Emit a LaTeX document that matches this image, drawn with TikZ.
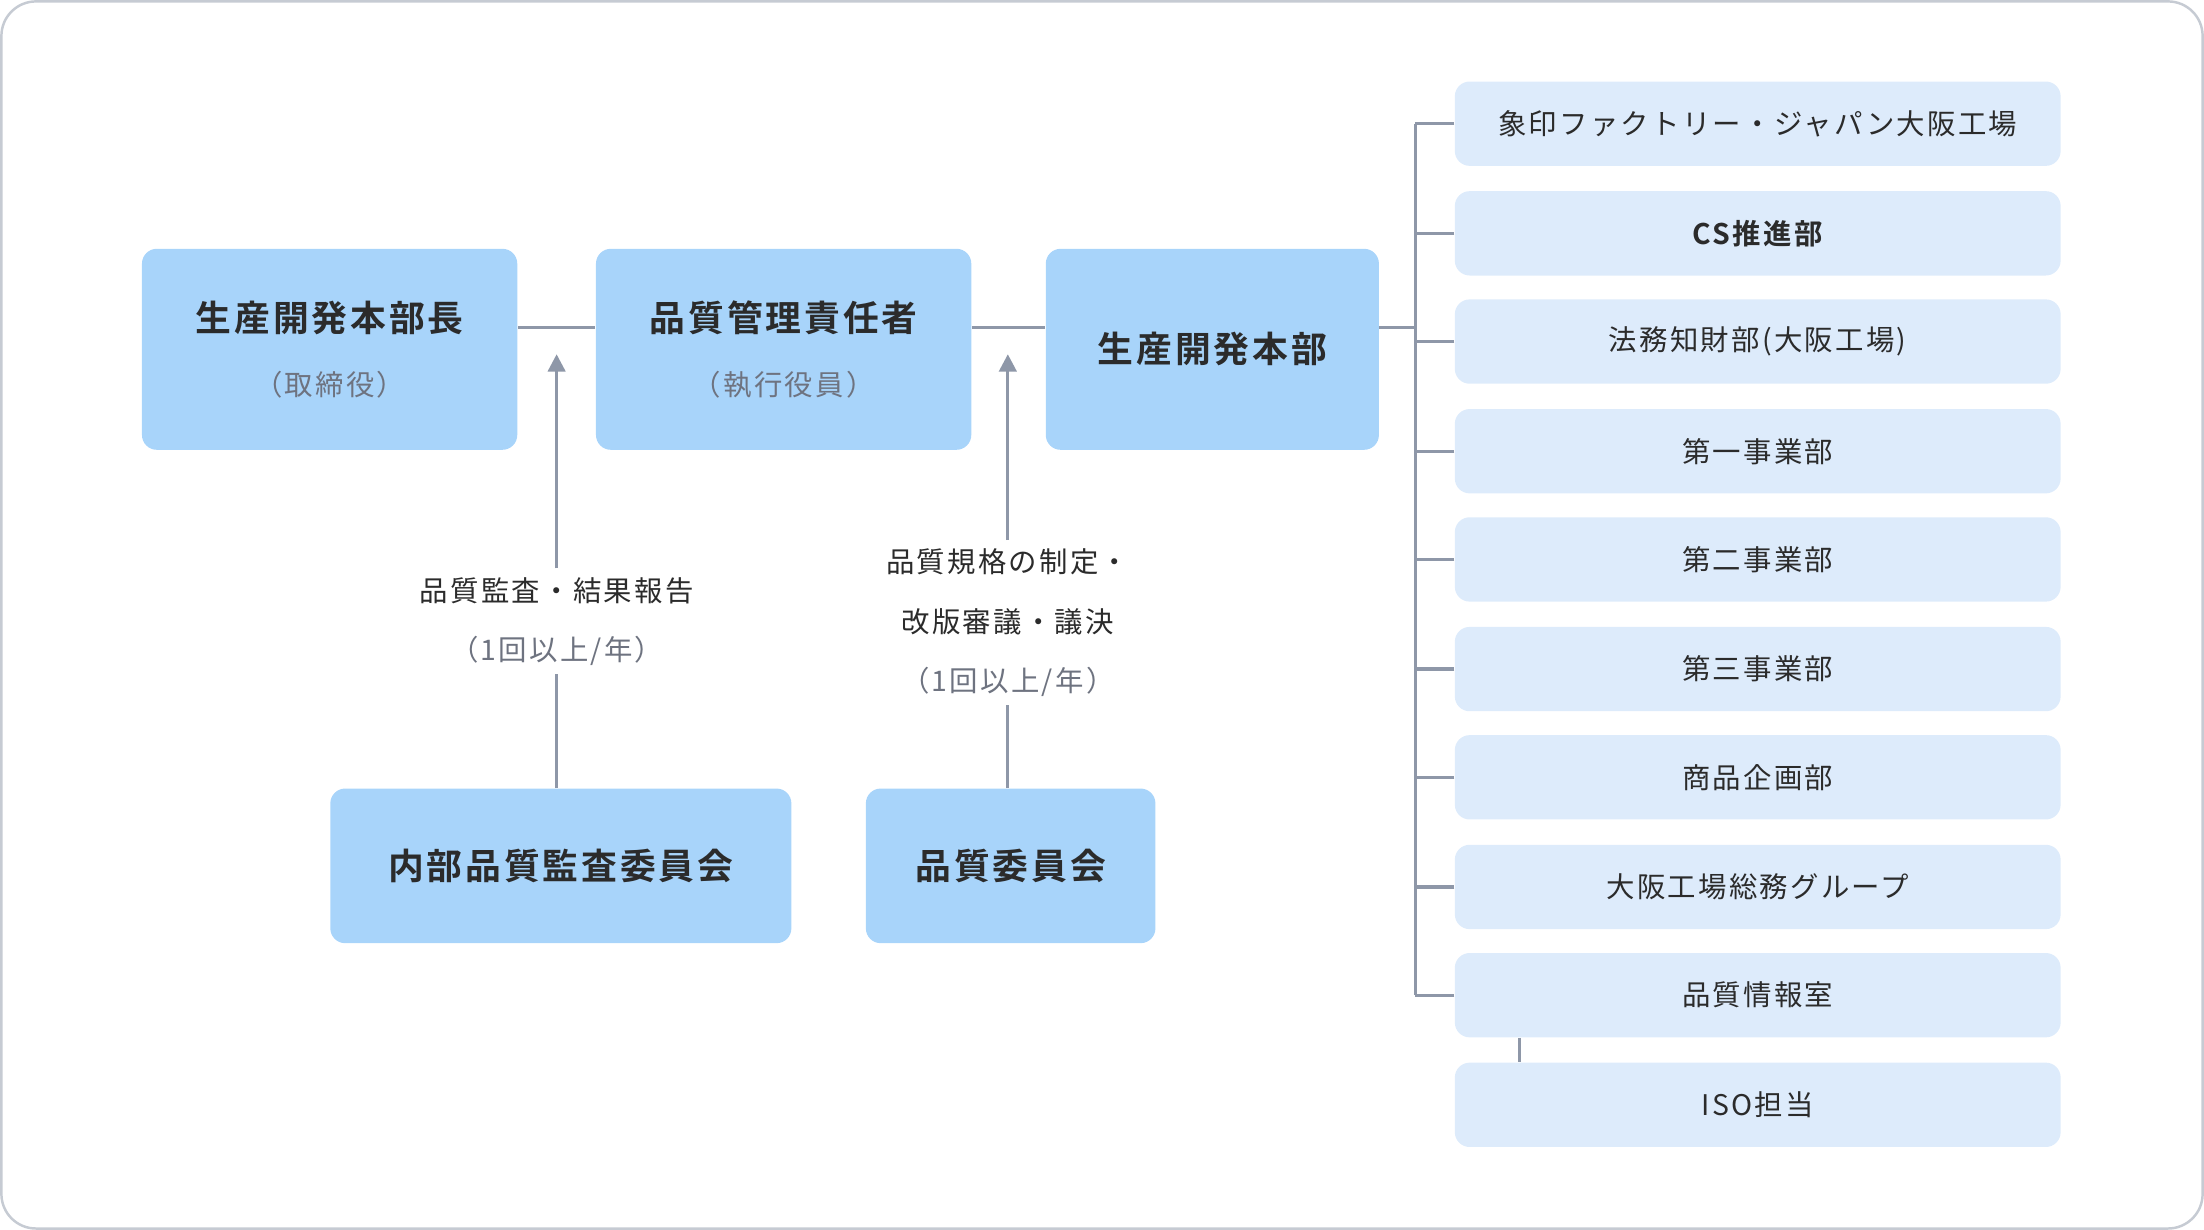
\documentclass[tikz,border=0pt]{standalone}
\usepackage{fontspec}
\newfontfamily\cjk[LetterSpace=8,BoldFont={Noto Sans CJK JP Bold}]{Noto Sans CJK JP}
\usetikzlibrary{positioning, arrows.meta}
\definecolor{boxblue}{HTML}{A8D4FA}
\definecolor{paleblue}{HTML}{DDEBFB}
\definecolor{linegray}{HTML}{8E97A8}
\definecolor{textdark}{HTML}{2B2B2B}
\definecolor{textgray}{HTML}{6E7380}

\begin{document}
\begin{tikzpicture}[x=0.02cm, y=-0.02cm,
	main/.style={fill=boxblue, rounded corners=6pt, inner sep=0pt, align=center, text=textdark, font=\cjk\bfseries\fontsize{14.5}{30}\selectfont},
	sub/.style={fill=paleblue, rounded corners=6pt, inner sep=0pt, minimum width=431*0.02cm, minimum height=60*0.02cm, text=textdark, font=\cjk\fontsize{11.5}{14}\selectfont},
	lbl/.style={text=textdark, align=center, font=\cjk\fontsize{11.5}{24}\selectfont},
	conn/.style={draw=linegray, line width=1.3pt},
	arr/.style={conn, -{Triangle[width=7pt, length=7pt]}}]
	% Frame
	\draw[draw=linegray!50, line width=1pt, rounded corners=14pt] (1,1) rectangle (1567,874);
	\useasboundingbox (0,0) rectangle (1568,875);

	% Upper row
	\node[main, minimum width=267*0.02cm, minimum height=143*0.02cm] (head) at (234.5,248.5)
		{生産開発本部長\\[-4pt]{\mdseries\color{textgray}\fontsize{11.5}{14}\selectfont（取締役）}};
	\node[main, minimum width=267*0.02cm, minimum height=143*0.02cm] (qmgr) at (557.5,248.5)
		{品質管理責任者\\[-4pt]{\mdseries\color{textgray}\fontsize{11.5}{14}\selectfont（執行役員）}};
	\node[main, minimum width=237*0.02cm, minimum height=143*0.02cm] (dept) at (862.5,248.5) {生産開発本部};

	% Lower row
	\node[main, minimum width=328*0.02cm, minimum height=110*0.02cm] (audit) at (399,616) {内部品質監査委員会};
	\node[main, minimum width=206*0.02cm, minimum height=110*0.02cm] (qcom) at (719,616) {品質委員会};

	\draw[conn] (head.east |- 0,233) -- (qmgr.west |- 0,233);
	\draw[conn] (qmgr.east |- 0,233) -- (dept.west |- 0,233);

	% Reports
	\node[lbl] (auditlbl) at (396,442) {品質監査・結果報告\\{\color{textgray}（1回以上/年）}};
	\draw[conn] (audit.north -| 396,0) -- (auditlbl.south -| 396,0);
	\draw[arr] (auditlbl.north -| 396,0) -- (396,252);
	\node[lbl] (qcomlbl) at (717,443) {品質規格の制定・\\改版審議・議決\\{\color{textgray}（1回以上/年）}};
	\draw[conn] (qcom.north -| 717,0) -- (qcomlbl.south -| 717,0);
	\draw[arr] (qcomlbl.north -| 717,0) -- (717,252);

	% Divisions
	\coordinate (bus) at (1007,233);
	\draw[conn] (dept.east |- bus) -- (bus);
	\foreach \name/\txt/\y in {s1/象印ファクトリー・ジャパン大阪工場/88, s2/{\bfseries CS推進部}/166,
		s3/法務知財部(大阪工場)/243, s4/第一事業部/321, s5/第二事業部/398, s6/第三事業部/476,
		s7/商品企画部/553, s8/大阪工場総務グループ/631, s9/品質情報室/708} {
		\node[sub] (\name) at (1250.5,\y) {\txt};
		\draw[conn] (\name.west) -- (\name.west -| bus);
	}
	\draw[conn] (s1.west -| bus) -- (s9.west -| bus);
	\node[sub] (iso) at (1250.5,786) {ISO担当};
	\draw[conn] (s9.south -| 1081,0) -- (iso.north -| 1081,0);
\end{tikzpicture}
\end{document}
